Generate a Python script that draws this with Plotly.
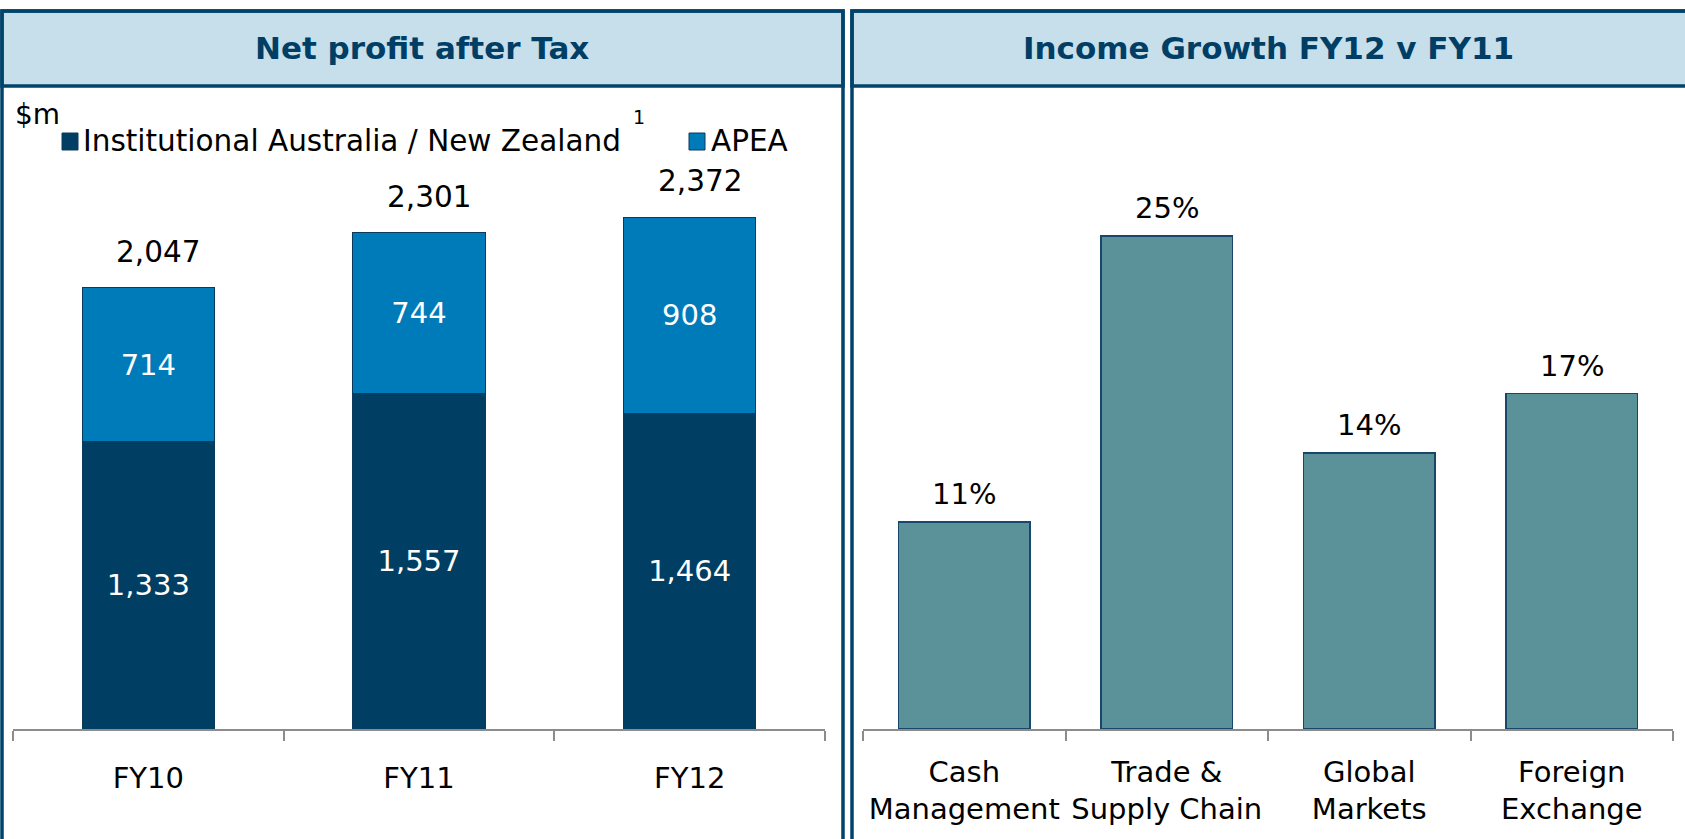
import plotly.graph_objects as go

# ---------------- data ----------------
years = ["FY10", "FY11", "FY12"]
inst_anz = [1333, 1557, 1464]
apea = [714, 744, 908]
totals = [2047, 2301, 2372]
series_names = ["Institutional Australia / New Zealand", "APEA"]

growth_cats = ["Cash<br>Management", "Trade &<br>Supply Chain", "Global<br>Markets", "Foreign<br>Exchange"]
growth_vals = [10.5, 25.0, 14.0, 17.0]
growth_labels = ["11%", "25%", "14%", "17%"]

left_title = "Net profit after Tax"
right_title = "Income Growth FY12 v FY11"
unit_label = "$m"

# ---------------- style ----------------
W, H = 1685, 839
FONT = "DejaVu Sans"
C_INST = "#003F63"
C_APEA = "#007BBA"
C_TEAL = "#5B9199"
C_BORDER = "#00446C"
C_HEAD = "#C6DFEB"
C_TITLE = "#003E66"
C_AXIS = "#8C8C8C"


def px(x):
    return x / W


def py(y):
    return 1 - y / H


fig = go.Figure()

fig.add_trace(go.Bar(
    x=years, y=inst_anz, name=series_names[0], xaxis="x", yaxis="y",
    marker=dict(color=C_INST, line=dict(color="#0B3A5C", width=1)),
    texttemplate="%{y:,}", textposition="inside", insidetextanchor="middle",
    textfont=dict(family=FONT, size=29, color="white"), showlegend=False,
))
fig.add_trace(go.Bar(
    x=years, y=apea, name=series_names[1], xaxis="x", yaxis="y",
    marker=dict(color=C_APEA, line=dict(color="#0B3A5C", width=1)),
    texttemplate="%{y:,}", textposition="inside", insidetextanchor="middle",
    textfont=dict(family=FONT, size=29, color="white"), showlegend=False,
))
fig.add_trace(go.Bar(
    x=growth_cats, y=growth_vals, name="Income growth", xaxis="x2", yaxis="y2",
    marker=dict(color=C_TEAL, line=dict(color="#17476A", width=1.5)),
    width=0.65, showlegend=False,
))

annotations = []
for cat, tot in zip(years, totals):
    annotations.append(dict(
        x=cat, y=tot, xref="x", yref="y", text=f"{tot:,}", showarrow=False,
        yanchor="middle", xanchor="center", yshift=36, xshift=10,
        font=dict(family=FONT, size=29.5, color="black"),
    ))
for cat, v, lab in zip(growth_cats, growth_vals, growth_labels):
    annotations.append(dict(
        x=cat, y=v, xref="x2", yref="y2", text=lab, showarrow=False,
        yanchor="middle", xanchor="center", yshift=28,
        font=dict(family=FONT, size=29, color="black"),
    ))


def paper_text(x, y, text, size, xanchor="left", color="black"):
    return dict(x=px(x), y=py(y), xref="paper", yref="paper", text=text,
                showarrow=False, xanchor=xanchor, yanchor="middle",
                font=dict(family=FONT, size=size, color=color))


# headers
annotations.append(paper_text(422, 48, f"<b>{left_title}</b>", 31, "center", C_TITLE))
annotations.append(paper_text(1268, 48, f"<b>{right_title}</b>", 31, "center", C_TITLE))
# unit label
annotations.append(paper_text(13, 114, unit_label, 28))
# legend texts
annotations.append(paper_text(81, 141, series_names[0], 29.5))
annotations.append(paper_text(631, 117, "1", 19))
annotations.append(paper_text(709, 141, series_names[1], 29.5))

shapes = [
    # legend squares
    dict(type="rect", xref="paper", yref="paper", x0=px(62), x1=px(78), y0=py(150), y1=py(133),
         fillcolor=C_INST, line=dict(color="#0B3A5C", width=1)),
    dict(type="rect", xref="paper", yref="paper", x0=px(689), x1=px(705), y0=py(150), y1=py(133),
         fillcolor=C_APEA, line=dict(color="#0B3A5C", width=1)),
    # header fills
    dict(type="rect", xref="paper", yref="paper", x0=px(2), x1=px(843), y0=py(86), y1=py(11),
         fillcolor=C_HEAD, line=dict(color=C_BORDER, width=3.5), layer="below"),
    dict(type="rect", xref="paper", yref="paper", x0=px(852), x1=px(1700), y0=py(86), y1=py(11),
         fillcolor=C_HEAD, line=dict(color=C_BORDER, width=3.5), layer="below"),
    # panel borders
    dict(type="rect", xref="paper", yref="paper", x0=px(2), x1=px(843), y0=py(860), y1=py(11),
         fillcolor="rgba(0,0,0,0)", line=dict(color=C_BORDER, width=3.5)),
    dict(type="rect", xref="paper", yref="paper", x0=px(852), x1=px(1700), y0=py(860), y1=py(11),
         fillcolor="rgba(0,0,0,0)", line=dict(color=C_BORDER, width=3.5)),
]

axis_common = dict(
    showline=True, linecolor=C_AXIS, linewidth=1.5,
    ticks="outside", tickson="boundaries", ticklen=10, tickcolor=C_AXIS, tickwidth=1.5,
    tickfont=dict(family=FONT, size=29, color="black"),
    showgrid=False, zeroline=False, fixedrange=True,
)

fig.update_layout(
    width=W, height=H,
    margin=dict(l=0, r=0, t=0, b=0),
    paper_bgcolor="white", plot_bgcolor="rgba(0,0,0,0)",
    barmode="stack",
    bargap=0.51,
    showlegend=False,
    xaxis=dict(domain=[px(13), px(825)], anchor="y", ticklabelstandoff=22, **axis_common),
    yaxis=dict(domain=[py(729), py(150)], range=[0, 2685], visible=False, anchor="x"),
    xaxis2=dict(domain=[px(863), px(1673)], anchor="y2", ticklabelstandoff=16, **axis_common),
    yaxis2=dict(domain=[py(729), py(150)], range=[0, 29.35], visible=False, anchor="x2"),
    annotations=annotations,
    shapes=shapes,
)

fig.write_html(
    "out.html",
    config={"displayModeBar": False},
    post_script="document.body.style.margin='0';document.body.style.overflow='hidden';",
)
